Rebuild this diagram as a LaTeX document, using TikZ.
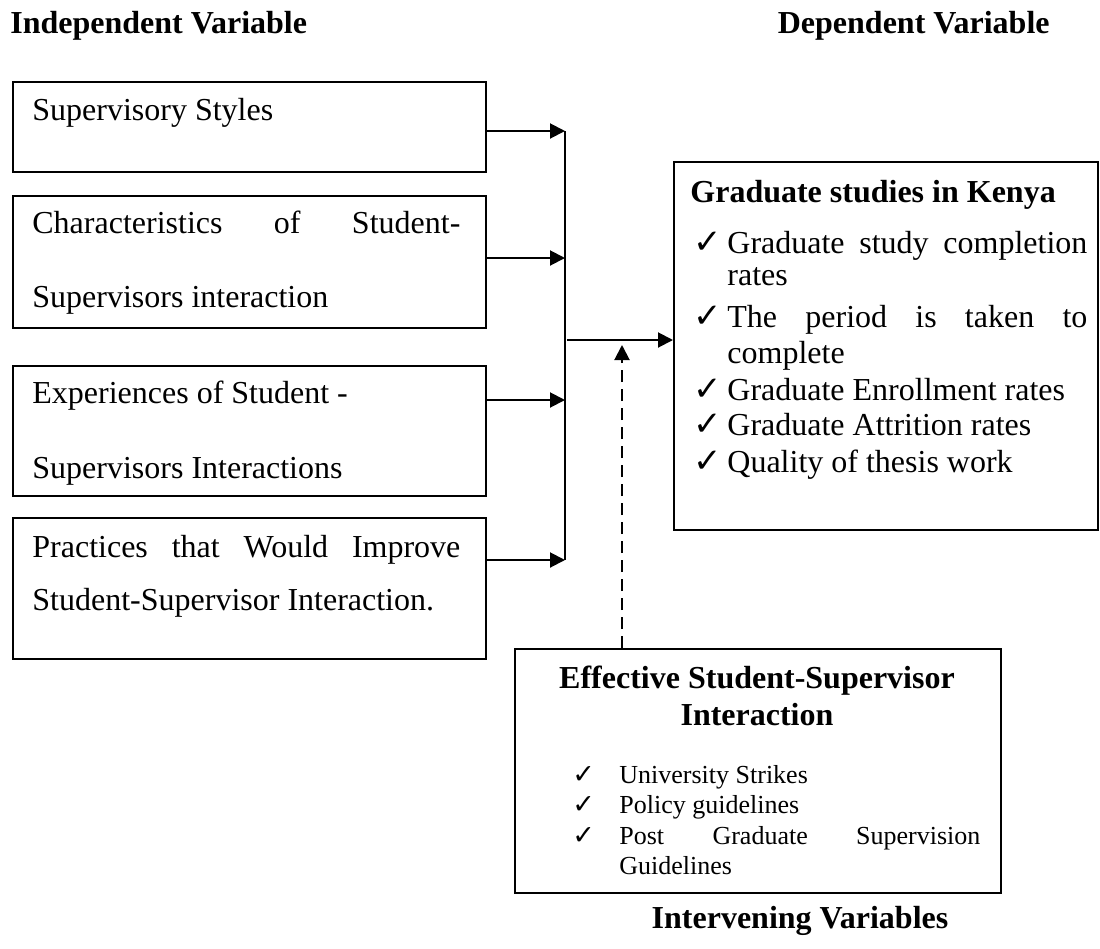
\documentclass[tikz,border=0pt]{standalone}
\usepackage{fontspec}
\setmainfont{Liberation Serif}
\newfontfamily\dejavu{DejaVu Sans}
\usetikzlibrary{arrows.meta}
\begin{document}
\begin{tikzpicture}[x=0.5pt,y=-0.5pt,
  box/.style={draw,line width=1pt,rectangle,anchor=north west,inner sep=0pt},
  txt/.style={anchor=base west,inner sep=0pt,font=\fontsize{16}{18}\selectfont},
  btxt/.style={txt,font=\fontsize{16}{18}\selectfont\bfseries},
  stxt/.style={anchor=base west,inner sep=0pt,font=\fontsize{13}{15}\selectfont},
  chk/.style={anchor=base west,inner sep=0pt,font=\dejavu\fontsize{17}{18}\selectfont},
  schk/.style={anchor=base west,inner sep=0pt,font=\dejavu\fontsize{13.5}{15}\selectfont},
  conn/.style={line width=1pt},
  arr/.style={line width=1pt,-{Triangle[length=7.5pt,width=7.5pt]}},
  darr/.style={line width=1pt,dash pattern=on 6pt off 3.5pt,-{Triangle[length=7.5pt,width=7.5pt]}}]
\useasboundingbox (0,0) rectangle (1100,949);

% headings
\node[btxt] (hind) at (10,33) {Independent Variable};
\node[btxt,anchor=base east] (hdep) at (1050,33) {Dependent Variable};
\node[btxt,anchor=base] (hint) at (800,928) {Intervening Variables};

% left boxes
\node[box,minimum width=236.5pt,minimum height=45pt] (b1) at (12,81) {};
\node[box,minimum width=236.5pt,minimum height=66pt] (b2) at (12,195) {};
\node[box,minimum width=236.5pt,minimum height=65pt] (b3) at (12,365) {};
\node[box,minimum width=236.5pt,minimum height=70.5pt] (b4) at (12,517) {};

\node[txt] (t1a) at (32,120) {Supervisory Styles};
\node[txt] (t2a) at (32,233) {\hbox to 214pt{Characteristics\hfill of\hfill Student-}};
\node[txt] (t2b) at (32,307) {Supervisors interaction};
\node[txt] (t3a) at (32,403) {Experiences of Student -};
\node[txt] (t3b) at (32,478) {Supervisors Interactions};
\node[txt] (t4a) at (32,557) {\hbox to 214pt{Practices\hfill that\hfill Would\hfill Improve}};
\node[txt] (t4b) at (32,610) {Student-Supervisor Interaction.};

% right box
\node[box,minimum width=212pt,minimum height=184pt] (r) at (673,161) {};
\node[btxt] (rh) at (690,202) {Graduate studies in Kenya};
\node[chk] (rc1) at (693,253) {✓};
\node[txt] (r1a) at (727,253) {\hbox to 180pt{Graduate\hfill study\hfill completion}};
\node[txt] (r1b) at (727,285) {rates};
\node[chk] (rc2) at (693,327) {✓};
\node[txt] (r2a) at (727,327) {\hbox to 180pt{The\hfill period\hfill is\hfill taken\hfill to}};
\node[txt] (r2b) at (727,363) {complete};
\node[chk] (rc3) at (693,400) {✓};
\node[txt] (r3) at (727,400) {Graduate Enrollment rates};
\node[chk] (rc4) at (693,435) {✓};
\node[txt] (r4) at (727,435) {Graduate Attrition rates};
\node[chk] (rc5) at (693,472) {✓};
\node[txt] (r5) at (727,472) {Quality of thesis work};

% bottom box
\node[box,minimum width=243pt,minimum height=122pt] (e) at (514,648) {};
\node[btxt,anchor=base] (eh1) at (757,688) {Effective Student-Supervisor};
\node[btxt,anchor=base] (eh2) at (757,725) {Interaction};
\node[schk] (ec1) at (572,783) {✓};
\node[stxt] (e1) at (619,783) {University Strikes};
\node[schk] (ec2) at (572,813) {✓};
\node[stxt] (e2) at (619,813) {Policy guidelines};
\node[schk] (ec3) at (572,844) {✓};
\node[stxt] (e3a) at (619,844) {\hbox to 180.5pt{Post\hfill Graduate\hfill Supervision}};
\node[stxt] (e3b) at (619,874) {Guidelines};

% connectors
\coordinate (p1) at (565,131);
\coordinate (p2) at (565,258);
\coordinate (p3) at (565,400);
\coordinate (p4) at (565,560);
\coordinate (m) at (567,340);
\coordinate (dt) at (622,345);
\draw[arr] (b1.east |- p1) -- (p1);
\draw[arr] (b2.east |- p2) -- (p2);
\draw[arr] (b3.east |- p3) -- (p3);
\draw[arr] (b4.east |- p4) -- (p4);
\draw[conn] (p1) -- (p4);
\draw[arr] (m) -- (r.west |- m);
\draw[darr] (e.north -| dt) -- (dt);
\end{tikzpicture}
\end{document}
